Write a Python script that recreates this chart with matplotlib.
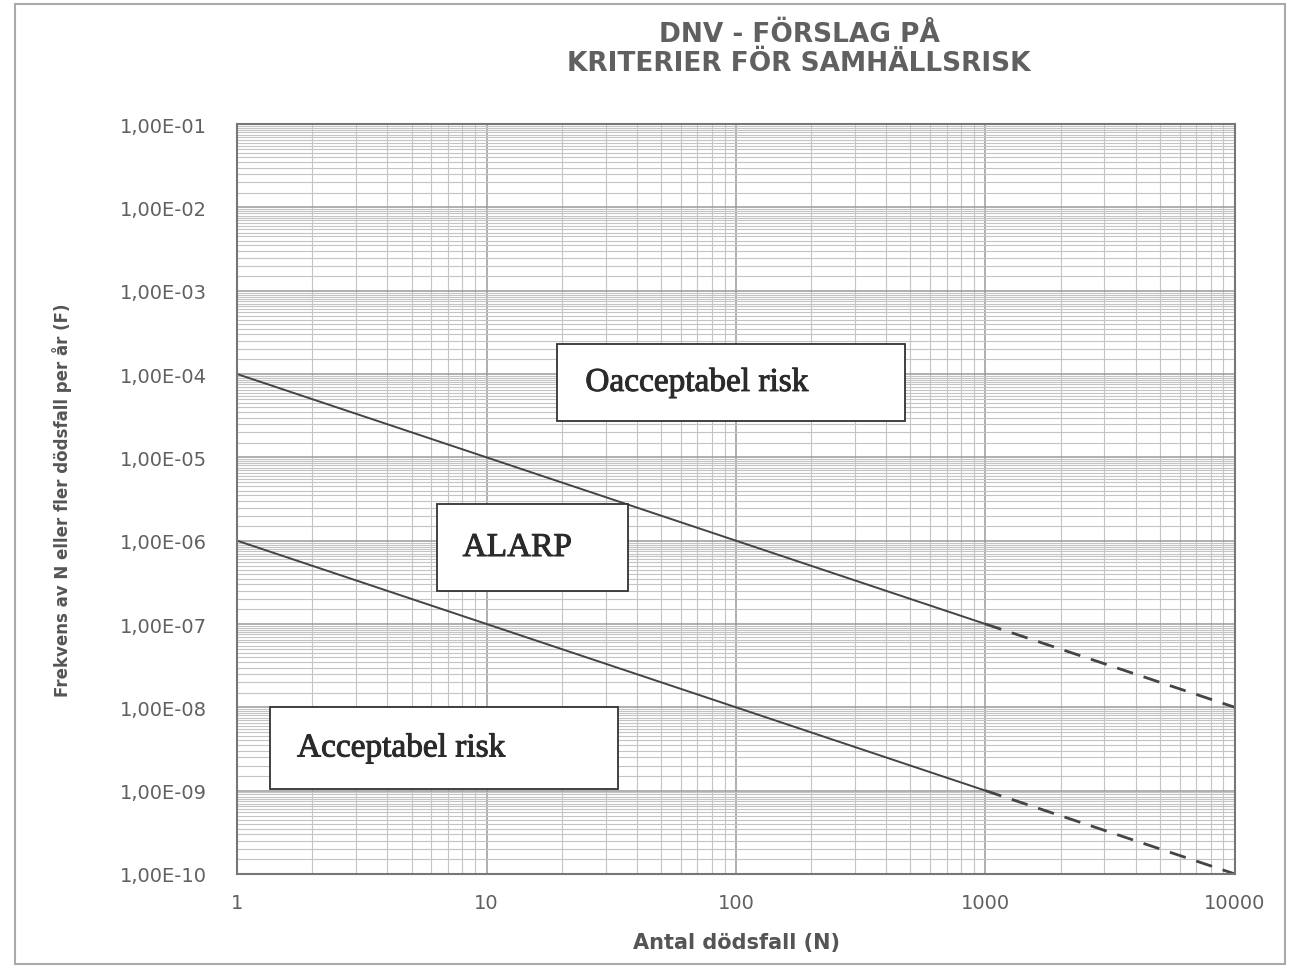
import numpy as np
import matplotlib
matplotlib.use("Agg")
import matplotlib.pyplot as plt
import matplotlib.patheffects as pe
from matplotlib.ticker import LogLocator, FixedLocator, NullFormatter
from matplotlib.patches import Rectangle

# criteria lines (N, F)
upper_solid_n = [1, 1000]
upper_solid_f = [1e-4, 1e-7]
upper_dash_n = [1000, 10000]
upper_dash_f = [1e-7, 1e-8]
lower_solid_n = [1, 1000]
lower_solid_f = [1e-6, 1e-9]
lower_dash_n = [1000, 10000]
lower_dash_f = [1e-9, 1e-10]

xticks = [1, 10, 100, 1000, 10000]
xlabels = ["1", "10", "100", "1000", "10000"]
yticks = [10.0 ** -k for k in range(1, 11)]
ylabels = ["1,00E-%02d" % k for k in range(1, 11)]

zone_names = ["Oacceptabel risk", "ALARP", "Acceptabel risk"]

plt.rcParams['font.family'] = ['DejaVu Sans']

fig = plt.figure(figsize=(12.89, 9.70), dpi=100)
ax = fig.add_axes([0.184, 0.098, 0.774, 0.773])
ax.set_xscale("log")
ax.set_yscale("log")
ax.set_xlim(1, 10000)
ax.set_ylim(1e-10, 1e-1)

ax.xaxis.set_major_locator(FixedLocator(xticks))
ax.set_xticklabels(xlabels)
ax.yaxis.set_major_locator(FixedLocator(yticks))
ax.set_yticklabels(ylabels)
ax.xaxis.set_minor_locator(LogLocator(base=10, subs=np.arange(2, 10), numticks=50))
ax.yaxis.set_minor_locator(LogLocator(base=10, subs=np.arange(1.5, 10, 0.5), numticks=200))
ax.xaxis.set_minor_formatter(NullFormatter())
ax.yaxis.set_minor_formatter(NullFormatter())
ax.tick_params(which="both", length=0)
ax.tick_params(axis="y", pad=22, labelsize=14, labelcolor="#606060")
ax.tick_params(axis="x", pad=14, labelsize=14, labelcolor="#606060")

ax.grid(which="major", color="#9a9a9a", lw=1.1)
ax.grid(which="minor", color="#c4c4c4", lw=0.8)
ax.set_axisbelow(True)
for s in ax.spines.values():
    s.set_color("#777777")
    s.set_linewidth(1.5)

lc = "#444444"
ax.plot(upper_solid_n, upper_solid_f, color=lc, lw=1.4)
ax.plot(upper_dash_n, upper_dash_f, color=lc, lw=2, ls=(0, (6, 4)))
ax.plot(lower_solid_n, lower_solid_f, color=lc, lw=1.4)
ax.plot(lower_dash_n, lower_dash_f, color=lc, lw=2, ls=(0, (6, 4)))

# zone boxes in axes fraction
boxes = [(0.321, 0.604, 0.348, 0.103, 0.349),
         (0.200, 0.377, 0.192, 0.116, 0.226),
         (0.033, 0.113, 0.349, 0.110, 0.060)]
for name, (bx, by, bw, bh, tx) in zip(zone_names, boxes):
    ax.add_patch(Rectangle((bx, by), bw, bh, transform=ax.transAxes,
                           facecolor="white", edgecolor="#333333", lw=1.3, zorder=5))
    ax.text(tx, by + bh / 2, name, transform=ax.transAxes, ha="left", va="center",
            fontsize=24, family="Liberation Serif", color="#2a2a2a", zorder=6,
            path_effects=[pe.withStroke(linewidth=0.7, foreground="#2a2a2a")])

ax.set_xlabel("Antal dödsfall (N)", fontsize=15, fontweight="bold", color="#555555", labelpad=14)
ax.set_ylabel("Frekvens av N eller fler dödsfall per år (F)", fontsize=12,
              fontweight="bold", color="#555555", labelpad=34)

fig.text(0.62, 0.964, "DNV - FÖRSLAG PÅ", ha="center", va="center",
         fontsize=19, fontweight="bold", color="#606060")
fig.text(0.62, 0.934, "KRITERIER FÖR SAMHÄLLSRISK", ha="center", va="center",
         fontsize=19, fontweight="bold", color="#606060")

fig.add_artist(Rectangle((0.012, 0.005), 0.985, 0.99, transform=fig.transFigure,
                         fill=False, edgecolor="#aaaaaa", lw=1.5))

fig.savefig("out.png", dpi=100)
